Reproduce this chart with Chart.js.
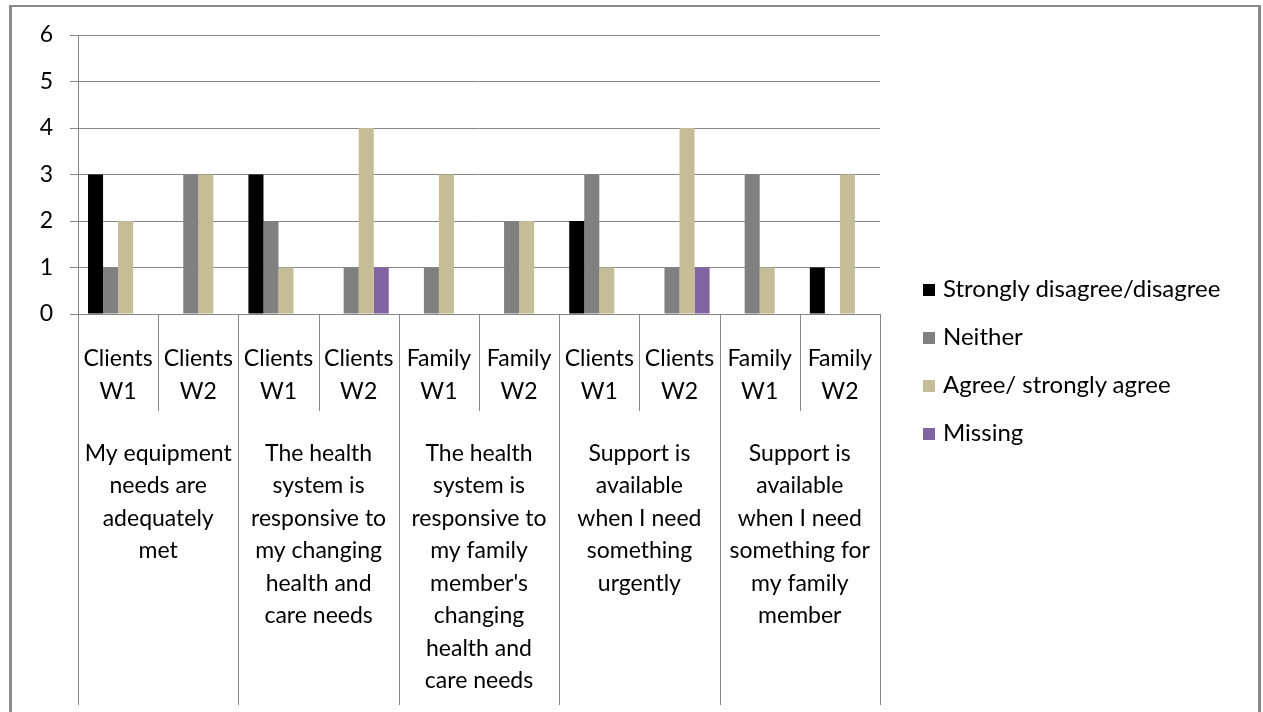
<!DOCTYPE html>
<html>
<head>
<meta charset="utf-8">
<script src="https://cdn.jsdelivr.net/npm/chart.js@4.4.1/dist/chart.umd.min.js"></script>
<style>
  body { margin: 0; background: #fff; }
  #wrap { position: relative; width: 1263px; height: 712px; }
  #frame {
    position: absolute; left: 9px; top: 5px; width: 1246px; height: 720px;
    border-left: 3px solid #8a8a8a; border-right: 3px solid #8a8a8a; border-top: 2px solid #8a8a8a;
    pointer-events: none;
  }
  #legend {
    position: absolute; left: 923px; top: 271px;
    font-family: Lato; font-size: 24px; color: #000;
  }
  #legend .item { height: 48px; line-height: 34px; white-space: nowrap; }
  #legend .swatch { display: inline-block; width: 12px; height: 12px; margin-right: 8px; vertical-align: 1px; }
</style>
</head>
<body>
<div id="wrap">
  <canvas id="surveyChart"></canvas>
  <div id="legend"></div>
  <div id="frame"></div>
</div>
<script>
// sub-categories (respondent group + wave)
const waves = [
  ['Clients', 'W1'], ['Clients', 'W2'],
  ['Clients', 'W1'], ['Clients', 'W2'],
  ['Family', 'W1'], ['Family', 'W2'],
  ['Clients', 'W1'], ['Clients', 'W2'],
  ['Family', 'W1'], ['Family', 'W2']
];

// survey statements, each covering two waves
const statements = [
  ['My equipment', 'needs are', 'adequately', 'met'],
  ['The health', 'system is', 'responsive to', 'my changing', 'health and', 'care needs'],
  ['The health', 'system is', 'responsive to', 'my family', "member's", 'changing', 'health and', 'care needs'],
  ['Support is', 'available', 'when I need', 'something', 'urgently'],
  ['Support is', 'available', 'when I need', 'something for', 'my family', 'member']
];

const disagree = [3, 0, 3, 0, 0, 0, 2, 0, 0, 1];
const neither  = [1, 3, 2, 1, 1, 2, 3, 1, 3, 0];
const agree    = [2, 3, 1, 4, 3, 2, 1, 4, 1, 3];
const missing  = [0, 0, 0, 1, 0, 0, 0, 1, 0, 0];

const yTicks = [0, 1, 2, 3, 4, 5, 6];

const lineColor = '#868686';
const font = { family: 'Lato', size: 23 };

// draws the cell borders of the two-level category table under the axis
const tableLines = {
  id: 'tableLines',
  afterDraw(chart) {
    const { ctx, chartArea, scales } = chart;
    const x = scales.x, x2 = scales.x2;
    const step = (x.right - x.left) / waves.length;
    ctx.save();
    ctx.strokeStyle = lineColor;
    ctx.lineWidth = 1;
    ctx.beginPath();
    for (let i = 0; i <= waves.length; i++) {
      const px = Math.round(x.left + i * step) + 0.5;
      const bottom = (i % 2 === 0) ? x2.bottom : x.bottom;
      ctx.moveTo(px, i === 0 ? chartArea.top : chartArea.bottom);
      ctx.lineTo(px, bottom);
    }
    ctx.stroke();
    ctx.restore();
  }
};

const chart = new Chart(document.getElementById('surveyChart'), {
  type: 'bar',
  data: {
    labels: waves,
    datasets: [
      { label: 'Strongly disagree/disagree', data: disagree, backgroundColor: '#000000' },
      { label: 'Neither', data: neither, backgroundColor: '#808080' },
      { label: 'Agree/ strongly agree', data: agree, backgroundColor: '#C4BD97' },
      { label: 'Missing', data: missing, backgroundColor: '#8064A2' }
    ]
  },
  options: {
    responsive: true,
    maintainAspectRatio: false,
    animation: false,
    layout: { padding: { left: 0, top: 35, right: 383, bottom: 7 } },
    datasets: { bar: { categoryPercentage: 0.75, barPercentage: 1 } },
    plugins: {
      tooltip: { enabled: false },
      legend: { display: false }
    },
    scales: {
      x: {
        offset: true,
        grid: { display: false },
        border: { display: false },
        ticks: { font: { ...font, lineHeight: 1.43 }, color: '#000', padding: 20, autoSkip: false, maxRotation: 0 },
        afterFit(scale) { scale.height = 97; }
      },
      x2: {
        type: 'category',
        position: 'bottom',
        labels: statements,
        offset: true,
        grid: { display: false },
        border: { display: false },
        ticks: { font: { ...font, lineHeight: 1.413 }, color: '#000', padding: 18, autoSkip: false, maxRotation: 0 },
        afterFit(scale) { scale.height = 294; }
      },
      y: {
        min: 0,
        max: 6,
        afterBuildTicks(scale) { scale.ticks = yTicks.map(v => ({ value: v })); },
        grid: { color: lineColor, tickLength: 8 },
        border: { color: lineColor },
        ticks: { font: font, color: '#000', padding: 17 },
        afterFit(scale) { scale.width = 78; }
      }
    }
  },
  plugins: [tableLines]
});

// legend built from the chart's datasets
const legendBox = document.getElementById('legend');
chart.data.datasets.forEach(ds => {
  const row = document.createElement('div');
  row.className = 'item';
  const sw = document.createElement('span');
  sw.className = 'swatch';
  sw.style.background = ds.backgroundColor;
  row.appendChild(sw);
  row.appendChild(document.createTextNode(ds.label));
  legendBox.appendChild(row);
});
</script>
</body>
</html>
